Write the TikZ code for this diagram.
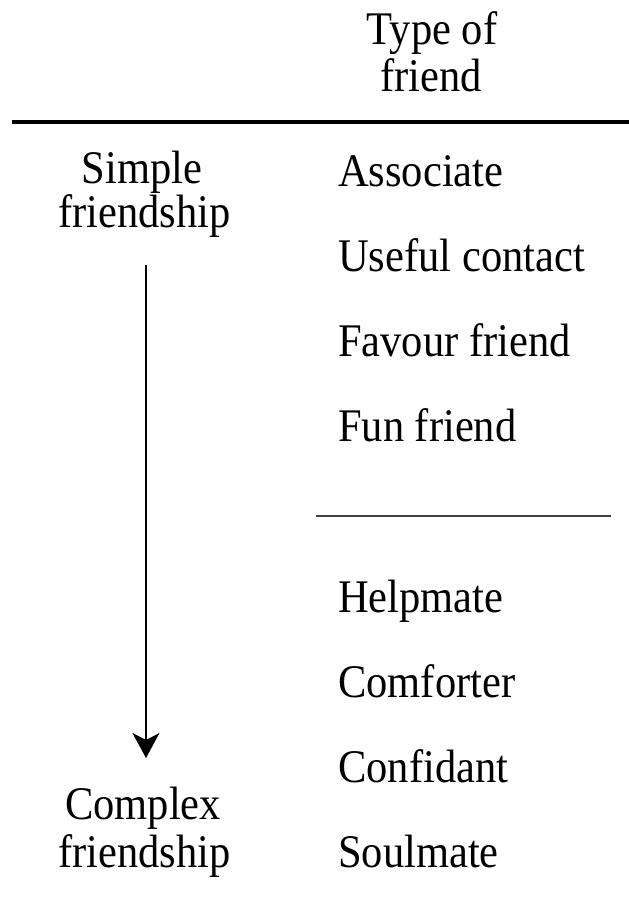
\documentclass[tikz,border=0pt]{standalone}
\usepackage{fontspec}
\setmainfont{Liberation Serif}
\usepackage{graphicx}
\usetikzlibrary{arrows.meta}
% text in this table is set slightly taller than its natural shape
\newcommand{\tallword}[1]{\scalebox{1}[1.1]{#1}}
\begin{document}
\begin{tikzpicture}[x=1bp,y=-1bp,
  lbl/.style={inner sep=0pt, font=\fontsize{42.5bp}{44bp}\selectfont},
  item/.style={lbl, anchor=base west},
  head/.style={lbl, anchor=base},
  thickrule/.style={line width=4bp},
  thinrule/.style={line width=2.5bp, black!75},
  flow/.style={line width=2bp, -{Stealth[length=25bp, width=27bp, inset=7bp]}}]
\useasboundingbox (0,0) rectangle (629,904);

% column heading
\node[head] (type1) at (432,44) {\tallword{Type of}};
\node[head] (type2) at (431,91) {\tallword{friend}};
\draw[thickrule] (12,122) -- (629,122);

% left column: the scale from simple to complex
\node[head] (simple1) at (142,183) {\tallword{Simple}};
\node[head] (simple2) at (144.5,227) {\tallword{friendship}};
\node[head] (complex1) at (143,819) {\tallword{Complex}};
\node[head] (complex2) at (144.5,867) {\tallword{friendship}};
\coordinate (arrowstart) at (146,265);
\coordinate (arrowend) at (146,758);
\draw[flow] (arrowstart) -- (arrowend);

% right column: types of friend
\node[item] (associate) at (338,186) {\tallword{Associate}};
\node[item] (useful)    at (338,271) {\tallword{Useful contact}};
\node[item] (favour)    at (338,356) {\tallword{Favour friend}};
\node[item] (fun)       at (338,441) {\tallword{Fun friend}};
\draw[thinrule] (316,516) -- (611,516);
\node[item] (helpmate)  at (338,612) {\tallword{Helpmate}};
\node[item] (comforter) at (338,697) {\tallword{Comforter}};
\node[item] (confidant) at (338,782) {\tallword{Confidant}};
\node[item] (soulmate)  at (338,867) {\tallword{Soulmate}};
\end{tikzpicture}
\end{document}
